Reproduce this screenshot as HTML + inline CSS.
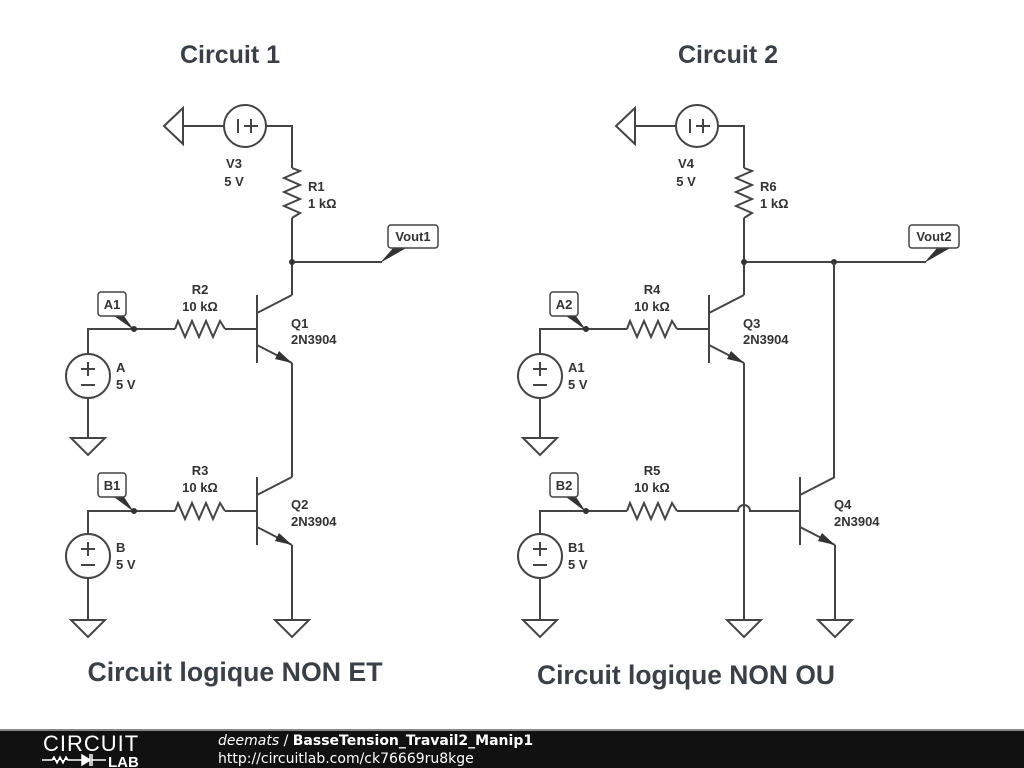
<!DOCTYPE html>
<html><head><meta charset="utf-8"><style>
html,body{margin:0;padding:0;background:#fff;width:1024px;height:768px;overflow:hidden}
svg{display:block}
text{font-family:"Liberation Sans",sans-serif;fill:#333;font-weight:bold}
.t{font-size:13px}
.w{stroke:#444;stroke-width:2;fill:none}
</style></head><body>
<svg width="1024" height="768" viewBox="0 0 1024 768">
<defs>
<g id="gnd"><path class="w" d="M-17,0 L17,0 L0,17 Z"/></g>
<g id="res"><path class="w" d="M0,0 L3,-8 L10,8 L17,-8 L24,8 L31,-8 L38,8 L45,-8 L50,0"/></g>
<g id="src"><circle class="w" cx="0" cy="0" r="22"/><path class="w" d="M-7,-7 h14 M0,-14 v14 M-7,9 h14"/></g>
<g id="npn"><path class="w" d="M0,-34 V34 M0,-16 L35,-34 M0,16 L35,34"/><path d="M35,34 L22,22 L18,30 Z" fill="#333"/></g>
</defs>
<text x="230" y="63" text-anchor="middle" style="font-size:25px;fill:#3a4046">Circuit 1</text>
<text x="728" y="63" text-anchor="middle" style="font-size:25px;fill:#3a4046">Circuit 2</text>
<text x="235" y="681" text-anchor="middle" textLength="295" lengthAdjust="spacingAndGlyphs" style="font-size:27px;fill:#3a4046">Circuit logique NON ET</text>
<text x="686" y="684" text-anchor="middle" textLength="298" lengthAdjust="spacingAndGlyphs" style="font-size:27px;fill:#3a4046">Circuit logique NON OU</text>

<!-- Circuit 1 -->
<path class="w" d="M164,126 L183,108 L183,144 Z M183,126 H224"/>
<circle class="w" cx="245" cy="126" r="21"/>
<path class="w" d="M238,119 v14 M244,126 h14 M251,119 v14"/>
<path class="w" d="M266,126 H292 V168"/>
<g transform="translate(292,168) rotate(90)"><use href="#res"/></g>
<path class="w" d="M292,218 V295 M292,262 H382"/>
<circle cx="292" cy="262" r="3" fill="#333"/>
<path d="M380,263 L394,247 L408,247 Z" fill="#333"/>
<rect x="388" y="225" width="50" height="23" rx="3" fill="#fff" stroke="#444" stroke-width="1.5"/>
<text class="t" x="413" y="241" text-anchor="middle">Vout1</text>
<text class="t" x="234" y="168" text-anchor="middle">V3</text>
<text class="t" x="234" y="186" text-anchor="middle">5 V</text>
<text class="t" x="308" y="191">R1</text>
<text class="t" x="308" y="208">1 kΩ</text>

<use href="#npn" x="257" y="329"/>
<path class="w" d="M292,363 V477"/>
<use href="#npn" x="257" y="511"/>
<path class="w" d="M292,545 V620"/>
<use href="#gnd" x="292" y="620"/>
<text class="t" x="291" y="328">Q1</text><text class="t" x="291" y="344">2N3904</text>
<text class="t" x="291" y="509">Q2</text><text class="t" x="291" y="526">2N3904</text>

<path class="w" d="M88,354 V329 H175 M225,329 H257"/>
<use href="#res" x="175" y="329"/>
<circle cx="134" cy="329" r="3" fill="#333"/>
<path d="M134,330 L114,316 L124,316 Z" fill="#333"/>
<rect x="98" y="292" width="28" height="24" rx="3" fill="#fff" stroke="#444" stroke-width="1.5"/>
<text class="t" x="112" y="309" text-anchor="middle">A1</text>
<text class="t" x="200" y="294" text-anchor="middle">R2</text><text class="t" x="200" y="311" text-anchor="middle">10 kΩ</text>
<use href="#src" x="88" y="376"/>
<text class="t" x="116" y="372">A</text><text class="t" x="116" y="389">5 V</text>
<path class="w" d="M88,398 V438"/><use href="#gnd" x="88" y="438"/>

<path class="w" d="M88,534 V511 H175 M225,511 H257"/>
<use href="#res" x="175" y="511"/>
<circle cx="134" cy="511" r="3" fill="#333"/>
<path d="M134,512 L114,497 L124,497 Z" fill="#333"/>
<rect x="98" y="473" width="28" height="24" rx="3" fill="#fff" stroke="#444" stroke-width="1.5"/>
<text class="t" x="112" y="490" text-anchor="middle">B1</text>
<text class="t" x="200" y="475" text-anchor="middle">R3</text><text class="t" x="200" y="492" text-anchor="middle">10 kΩ</text>
<use href="#src" x="88" y="556"/>
<text class="t" x="116" y="552">B</text><text class="t" x="116" y="569">5 V</text>
<path class="w" d="M88,578 V620"/><use href="#gnd" x="88" y="620"/>

<!-- Circuit 2 -->
<g transform="translate(452,0)">
<path class="w" d="M164,126 L183,108 L183,144 Z M183,126 H224"/>
<circle class="w" cx="245" cy="126" r="21"/>
<path class="w" d="M238,119 v14 M244,126 h14 M251,119 v14"/>
<path class="w" d="M266,126 H292 V168"/>
<g transform="translate(292,168) rotate(90)"><use href="#res"/></g>
<path class="w" d="M292,218 V295 M292,262 H474"/>
<circle cx="292" cy="262" r="3" fill="#333"/>
<circle cx="382" cy="262" r="3" fill="#333"/>
<path d="M472,263 L486,247 L500,247 Z" fill="#333"/>
<rect x="457" y="225" width="50" height="23" rx="3" fill="#fff" stroke="#444" stroke-width="1.5"/>
<text class="t" x="482" y="241" text-anchor="middle">Vout2</text>
<text class="t" x="234" y="168" text-anchor="middle">V4</text>
<text class="t" x="234" y="186" text-anchor="middle">5 V</text>
<text class="t" x="308" y="191">R6</text>
<text class="t" x="308" y="208">1 kΩ</text>

<use href="#npn" x="257" y="329"/>
<path class="w" d="M292,363 V620"/>
<use href="#gnd" x="292" y="620"/>
<text class="t" x="291" y="328">Q3</text><text class="t" x="291" y="344">2N3904</text>
<path class="w" d="M382,262 V477"/>
<use href="#npn" x="348" y="511"/>
<path class="w" d="M383,545 V620"/>
<use href="#gnd" x="383" y="620"/>
<text class="t" x="382" y="509">Q4</text><text class="t" x="382" y="526">2N3904</text>

<path class="w" d="M88,354 V329 H175 M225,329 H257"/>
<use href="#res" x="175" y="329"/>
<circle cx="134" cy="329" r="3" fill="#333"/>
<path d="M134,330 L114,316 L124,316 Z" fill="#333"/>
<rect x="98" y="292" width="28" height="24" rx="3" fill="#fff" stroke="#444" stroke-width="1.5"/>
<text class="t" x="112" y="309" text-anchor="middle">A2</text>
<text class="t" x="200" y="294" text-anchor="middle">R4</text><text class="t" x="200" y="311" text-anchor="middle">10 kΩ</text>
<use href="#src" x="88" y="376"/>
<text class="t" x="116" y="372">A1</text><text class="t" x="116" y="389">5 V</text>
<path class="w" d="M88,398 V438"/><use href="#gnd" x="88" y="438"/>

<path class="w" d="M88,534 V511 H175 M225,511 H286 A6,6 0 0 1 298,511 H348"/>
<use href="#res" x="175" y="511"/>
<circle cx="134" cy="511" r="3" fill="#333"/>
<path d="M134,512 L114,497 L124,497 Z" fill="#333"/>
<rect x="98" y="473" width="28" height="24" rx="3" fill="#fff" stroke="#444" stroke-width="1.5"/>
<text class="t" x="112" y="490" text-anchor="middle">B2</text>
<text class="t" x="200" y="475" text-anchor="middle">R5</text><text class="t" x="200" y="492" text-anchor="middle">10 kΩ</text>
<use href="#src" x="88" y="556"/>
<text class="t" x="116" y="552">B1</text><text class="t" x="116" y="569">5 V</text>
<path class="w" d="M88,578 V620"/><use href="#gnd" x="88" y="620"/>
</g>

<!-- footer -->
<rect x="0" y="729" width="1024" height="39" fill="#111"/>
<rect x="0" y="729" width="1024" height="2" fill="#888"/>
<text x="43" y="751" style="font-size:22px;font-weight:normal;fill:#fff;letter-spacing:1px">CIRCUIT</text>
<path d="M42,760 H52 l2,-3 3,6 3,-6 3,6 3,-6 2,3 H90 M90,754 v12 M90,760 l-8,-5 v10 Z M92,754 v12 M92,760 H106" stroke="#fff" stroke-width="1.5" fill="#fff"/>
<text x="108" y="767" style="font-size:15px;fill:#fff">LAB</text>
<text x="218" y="745" style="font-size:14px;fill:#fff;font-family:'DejaVu Sans',sans-serif"><tspan style="font-style:italic;font-weight:normal">deemats</tspan><tspan style="font-weight:normal"> / </tspan>BasseTension_Travail2_Manip1</text>
<text x="218" y="763" style="font-size:14px;fill:#fff;font-weight:normal;font-family:'DejaVu Sans',sans-serif">http://circuitlab.com/ck76669ru8kge</text>
</svg>
</body></html>
